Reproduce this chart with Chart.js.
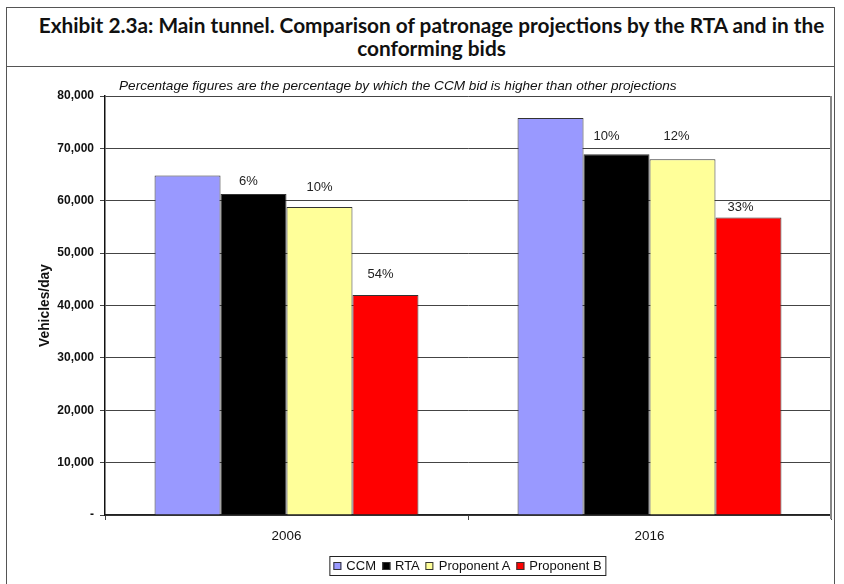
<!DOCTYPE html>
<html>
<head>
<meta charset="utf-8">
<script src="https://cdn.jsdelivr.net/npm/chart.js@4"></script>
<style>
  body { margin: 0; background: #fff; }
  #wrap { position: relative; width: 844px; height: 584px; overflow: hidden; }
  #frame { position: absolute; left: 6px; top: 7px; width: 829px; height: 620px;
           border: 1.5px solid #555; box-sizing: border-box; }
  #title { position: absolute; left: 6px; top: 7px; width: 829px; height: 60px; box-sizing: border-box;
           border-bottom: 1.5px solid #555; padding: 6px 0 0 22px; text-align: center;
           font-family: Lato, "Noto Sans", sans-serif; font-weight: bold; font-size: 20.8px;
           line-height: 23px; color: #111; white-space: nowrap; }
  #chart { position: absolute; left: 0; top: 0; }
  #legend { position: absolute; left: 468px; top: 556px; transform: translateX(-50%);
            border: 1px solid #222; padding: 1px 4px 2px 3px; white-space: nowrap;
            font-family: "Liberation Sans", Arial, sans-serif; font-size: 13px; line-height: 15px; color: #111; }
  #legend span.item { margin-right: 6px; }
  #legend span.item:last-child { margin-right: 0; }
  #legend span.box { display: inline-block; width: 6px; height: 6px; border: 1px solid #333;
                     margin-right: 5px; vertical-align: 0px; }
</style>
</head>
<body>
<div id="wrap">
  <div id="frame"></div>
  <div id="title">Exhibit 2.3a: Main tunnel. Comparison of patronage projections by the RTA and in the<br>conforming bids</div>
  <canvas id="chart" width="844" height="584"></canvas>
  <div id="legend"></div>
</div>
<script>
// --- Data ---
const categories = ['2006', '2016'];
const seriesNames = ['CCM', 'RTA', 'Proponent A', 'Proponent B'];
const ccmValues = [64800, 75800];
const rtaValues = [61300, 68900];
const proponentAValues = [58800, 67900];
const proponentBValues = [42000, 56800];
// percentage by which the CCM bid is higher (null = no label)
const ccmLabels = [null, null];
const rtaLabels = ['6%', '10%'];
const proponentALabels = ['10%', '12%'];
const proponentBLabels = ['54%', '33%'];
const yTicks = [0, 10000, 20000, 30000, 40000, 50000, 60000, 70000, 80000];

const seriesColors = ['#9999ff', '#000000', '#ffff99', '#ff0000'];
const seriesValues = [ccmValues, rtaValues, proponentAValues, proponentBValues];
const seriesLabels = [ccmLabels, rtaLabels, proponentALabels, proponentBLabels];

// label nudges [dx, dy] from the top centre of each bar, per series / category
const labelNudge = [
    [[0, 0], [0, 0]],
    [[-5, -13], [-10, -18]],
    [[0, -20], [-6, -23]],
    [[-5, -21], [-8, -10]]
];

const FONT = '"Liberation Sans", Arial, sans-serif';

// --- Plugin: percentage labels, subtitle, axis title, right border ---
const extrasPlugin = {
    id: 'extras',
    afterDatasetsDraw(chart) {
        const ctx = chart.ctx;
        const area = chart.chartArea;
        ctx.save();

        // right border of plot area
        ctx.strokeStyle = '#888';
        ctx.lineWidth = 2;
        ctx.beginPath();
        ctx.moveTo(area.right, area.top);
        ctx.lineTo(area.right, area.bottom + 4);
        ctx.stroke();

        // percentage labels
        ctx.fillStyle = '#222';
        ctx.font = '13px ' + FONT;
        ctx.textAlign = 'center';
        ctx.textBaseline = 'middle';
        chart.data.datasets.forEach((ds, i) => {
            const meta = chart.getDatasetMeta(i);
            meta.data.forEach((bar, j) => {
                const txt = seriesLabels[i][j];
                if (!txt) return;
                const n = labelNudge[i][j];
                ctx.fillText(txt, bar.x + n[0], bar.y + n[1]);
            });
        });

        // subtitle
        ctx.font = 'italic 13.6px ' + FONT;
        ctx.textAlign = 'left';
        ctx.fillStyle = '#111';
        ctx.fillText('Percentage figures are the percentage by which the CCM bid is higher than other projections',
                     area.left + 14, area.top - 10);

        // y axis title
        ctx.font = 'bold 13.8px ' + FONT;
        ctx.textAlign = 'center';
        ctx.translate(45, (area.top + area.bottom) / 2);
        ctx.rotate(-Math.PI / 2);
        ctx.fillText('Vehicles/day', 0, 0);
        ctx.restore();
    }
};

const chart = new Chart(document.getElementById('chart').getContext('2d'), {
    type: 'bar',
    data: {
        labels: categories,
        datasets: seriesNames.map((name, i) => ({
            label: name,
            data: seriesValues[i],
            backgroundColor: seriesColors[i],
            borderColor: '#333',
            borderWidth: 1,
            categoryPercentage: 0.727,
            barPercentage: 1.0
        }))
    },
    options: {
        responsive: false,
        animation: false,
        devicePixelRatio: 1,
        layout: { padding: { left: 0, right: 13, top: 96, bottom: 39 } },
        plugins: { legend: { display: false }, tooltip: { enabled: false }, title: { display: false } },
        scales: {
            x: {
                grid: { display: true, drawOnChartArea: false, drawTicks: true, tickLength: 5, color: '#444' },
                border: { color: '#222', width: 1.5 },
                ticks: { font: { family: FONT, size: 13.4 }, color: '#111', padding: 8 },
                afterFit: s => { s.height = 30; }
            },
            y: {
                min: 0,
                max: 80000,
                afterBuildTicks: s => { s.ticks = yTicks.map(v => ({ value: v })); },
                grid: { color: '#444', lineWidth: 1, tickLength: 5, drawTicks: true },
                border: { color: '#111', width: 1.5 },
                ticks: {
                    font: { family: FONT, size: 12, weight: 'bold' },
                    color: '#111',
                    padding: 6,
                    callback: v => v === 0 ? '-' : v.toLocaleString('en-US')
                },
                afterFit: s => { s.width = 105; }
            }
        }
    },
    plugins: [extrasPlugin]
});

// --- HTML legend ---
const legend = document.getElementById('legend');
seriesNames.forEach((name, i) => {
    const item = document.createElement('span');
    item.className = 'item';
    const box = document.createElement('span');
    box.className = 'box';
    box.style.background = seriesColors[i];
    item.appendChild(box);
    item.appendChild(document.createTextNode(name));
    legend.appendChild(item);
});
</script>
</body>
</html>
